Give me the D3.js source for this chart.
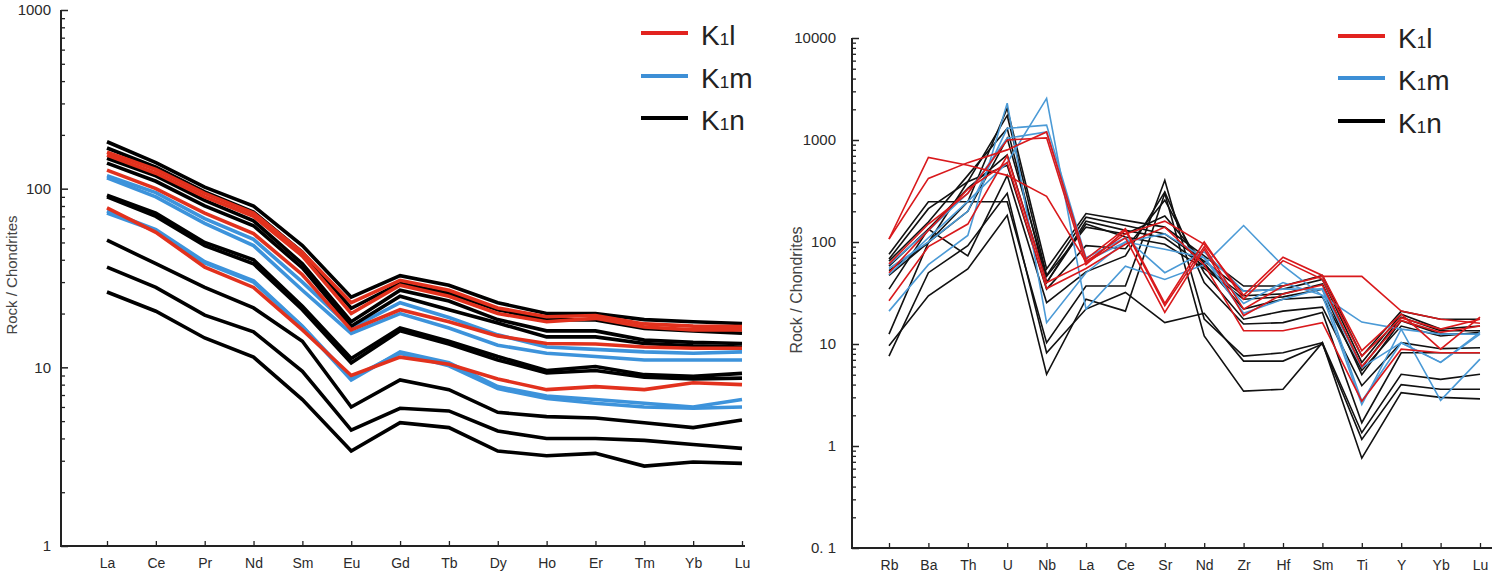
<!DOCTYPE html>
<html>
<head>
<meta charset="utf-8">
<script src="https://cdn.jsdelivr.net/npm/d3@7.9.0/dist/d3.min.js"></script>
<style>
  html, body { margin: 0; padding: 0; background: #fff; }
  svg { display: block; font-family: "Liberation Sans", Arial, sans-serif; }
  .tick text { fill: #2a2a2a; }
</style>
</head>
<body>
<svg id="chart" width="1510" height="579"></svg>
<script>
// --- DATA ---
const reeElements = ['La', 'Ce', 'Pr', 'Nd', 'Sm', 'Eu', 'Gd', 'Tb', 'Dy', 'Ho', 'Er', 'Tm', 'Yb', 'Lu'];
const traceElements = ['Rb', 'Ba', 'Th', 'U', 'Nb', 'La', 'Ce', 'Sr', 'Nd', 'Zr', 'Hf', 'Sm', 'Ti', 'Y', 'Yb', 'Lu'];

const groups = ['K1l', 'K1m', 'K1n'];

// chondrite-normalised REE
const reeK1l = [
  [160, 128, 94, 73, 44, 23, 30.7, 27, 21.5, 19.2, 19.5, 17.5, 17, 16.9],
  [154, 122, 90, 70, 42, 20, 28.8, 25, 20, 18, 18.8, 16.8, 16.2, 16.2],
  [127, 100, 73, 56, 33, 16.2, 21, 18, 15, 13.6, 13.5, 13, 12.8, 12.8],
  [78, 57, 36.4, 28, 16.2, 9.0, 11.4, 10.4, 8.6, 7.5, 7.8, 7.5, 8.2, 8.0]
];
const reeK1m = [
  [118, 95, 68, 52, 30, 16.6, 23, 19, 15.2, 13, 12.6, 12.2, 12, 12.2],
  [115, 90, 64, 48, 27, 15.5, 20, 16.6, 13.3, 12, 11.5, 11, 11, 11.0],
  [73, 58, 38.4, 30, 16.9, 8.5, 12.2, 10.6, 7.8, 6.9, 6.6, 6.3, 6.0, 6.6],
  [75, 59, 39, 30.5, 17, 8.7, 12.0, 10.2, 7.6, 6.7, 6.3, 6.0, 5.9, 6.0]
];
const reeK1n = [
  [183, 140, 102, 80, 48, 24.7, 32.6, 28.8, 23, 20, 20, 18.5, 18, 17.6],
  [169, 132, 96, 74, 44, 21.4, 29.5, 26, 21, 18.5, 18.4, 16.5, 16, 15.5],
  [148, 118, 86, 66, 38, 18, 27, 23.5, 18.5, 16, 16, 14.2, 13.8, 13.6],
  [139, 110, 80, 62, 36, 17, 25, 21, 17.7, 14.8, 14.8, 13.6, 13.2, 13.0],
  [92, 73, 50, 40, 22, 11.2, 16.6, 14, 11.5, 9.6, 10.1, 9.1, 8.9, 9.25],
  [90, 70, 48, 38, 21, 10.6, 16, 13.5, 11, 9.3, 9.6, 8.8, 8.6, 8.7],
  [51.5, 38, 28, 21.5, 14, 6.0, 8.5, 7.5, 5.6, 5.3, 5.2, 4.9, 4.6, 5.07],
  [36.4, 28, 19.6, 15.8, 9.5, 4.45, 5.9, 5.7, 4.4, 4.0, 4.0, 3.9, 3.7, 3.52],
  [26.4, 20.6, 14.6, 11.4, 6.6, 3.4, 4.9, 4.6, 3.4, 3.2, 3.3, 2.8, 2.95, 2.9]
];

// normalised trace elements
const traceK1l = [
  [107, 675, 565, 450, 280, 64, 120, 160, 95, 30, 71, 47, 8.6, 19.6, 8.9, 18.3],
  [107, 420, 600, 800, 1200, 68, 135, 25, 100, 27.5, 65.7, 43, 7.6, 18, 14, 17.5],
  [61, 150, 300, 1000, 1050, 60, 130, 23.7, 90, 22, 37, 46, 46, 21, 17.5, 16],
  [26.5, 90, 150, 700, 40, 62, 110, 20.4, 85, 19, 31, 38, 6.0, 17, 13, 15],
  [50, 130, 330, 600, 35, 55, 95, 140, 60, 13.5, 13.5, 16.2, 2.75, 8.9, 8.2, 8.2]
];
const traceK1m = [
  [21, 60, 116, 2300, 16.2, 50, 100, 120, 70, 25, 40, 30, 2.55, 14, 2.8, 7.1],
  [48, 110, 250, 600, 2560, 22, 58, 43, 60, 145, 58.5, 29.7, 16.4, 14, 12.5, 12.5],
  [55, 100, 200, 1300, 1400, 70, 110, 50, 80, 33, 34.5, 34.5, 2.75, 10.3, 6.6, 12.5],
  [60, 130, 300, 1040, 1200, 65, 100, 85, 70, 20, 27.5, 35, 5.9, 10.3, 6.6, 13]
];
const traceK1n = [
  [76, 248, 248, 2050, 54.5, 190, 163, 140, 73, 37, 37, 47, 7.6, 21, 17.5, 17.5],
  [68, 212, 390, 1740, 47, 175, 145, 120, 65, 33, 34.5, 43, 6.6, 19.6, 14, 15],
  [65, 157, 450, 1300, 40, 160, 130, 110, 58, 29.7, 31, 38.7, 5.9, 18.3, 13.5, 13.5],
  [58, 134, 335, 715, 40, 150, 112, 95, 55, 27.5, 29, 34.5, 5.0, 16.9, 12.5, 12.5],
  [47, 99, 200, 1040, 46, 140, 120, 180, 62, 22, 27.5, 29, 5.5, 15, 12, 13],
  [52.5, 99, 390, 565, 34.5, 92, 86, 257, 50, 17.5, 21, 23, 3.9, 10.3, 9, 9.2],
  [34.5, 134, 73, 450, 25.5, 51, 73, 310, 40, 15.7, 16.2, 20.4, 1.69, 8.2, 8.2, 8.2],
  [12.5, 99, 248, 248, 10.3, 37, 37, 403, 17.6, 7.6, 8.2, 10.3, 1.35, 5.05, 4.5, 5.05],
  [9.6, 29.7, 54.5, 183, 5.05, 27.5, 21, 300, 12, 3.45, 3.6, 10.3, 0.76, 3.33, 3.0, 2.9],
  [7.6, 50, 92, 300, 8.2, 22, 32, 16.2, 20, 6.8, 6.8, 10, 1.16, 4.0, 3.6, 3.6]
];

const svg = d3.select('#chart');

// draws one spider panel
function drawPanel(cfg) {
  const g = svg.append('g');
  const x = d3.scalePoint().domain(cfg.elements).range(cfg.xRange);
  const y = d3.scaleLog().domain(cfg.yDomain).range(cfg.yRange);

  // minor ticks (log 2..9 within each decade)
  const minor = [];
  for (let p = Math.log10(cfg.yDomain[0]); p < Math.log10(cfg.yDomain[1]); p++) {
    for (let m = 2; m <= 9; m++) minor.push(m * Math.pow(10, p));
  }
  g.append('g')
    .attr('transform', `translate(${cfg.axisX},0)`)
    .call(d3.axisLeft(y).tickValues(minor).tickSize(-4).tickFormat(''))
    .call(a => a.select('.domain').remove())
    .selectAll('line').attr('stroke', '#222').attr('stroke-width', 1.3);

  // major ticks + labels
  g.append('g')
    .attr('transform', `translate(${cfg.axisX},0)`)
    .call(d3.axisLeft(y).tickValues(cfg.majorTicks).tickSize(-7).tickPadding(cfg.labelPad)
      .tickFormat((d, i) => cfg.majorLabels[i]))
    .call(a => a.select('.domain').remove())
    .call(a => a.selectAll('line').attr('stroke', '#222').attr('stroke-width', 1.5))
    .call(a => a.selectAll('text').attr('font-size', 15));

  // bottom ticks
  g.append('g')
    .attr('transform', `translate(0,${cfg.yRange[0]})`)
    .call(d3.axisBottom(x).tickSize(-5).tickPadding(12))
    .call(a => a.select('.domain').remove())
    .call(a => a.selectAll('line').attr('stroke', '#222').attr('stroke-width', 1.3))
    .call(a => a.selectAll('text').attr('font-size', 14));

  // axis lines
  g.append('path')
    .attr('d', `M${cfg.axisX},${cfg.yRange[1]}V${cfg.yRange[0]}H${cfg.axisEnd}`)
    .attr('fill', 'none').attr('stroke', '#222').attr('stroke-width', 2);

  // y title
  g.append('text')
    .attr('transform', `translate(${cfg.titleX},${cfg.titleY}) rotate(-90)`)
    .attr('text-anchor', 'middle')
    .attr('font-size', cfg.titleSize)
    .attr('fill', '#444')
    .text('Rock / Chondrites');

  // lines
  const line = d3.line()
    .x((d, i) => x(cfg.elements[i]))
    .y(d => y(d));
  cfg.order.forEach(grp => {
    g.append('g').selectAll('path')
      .data(cfg.series[grp])
      .join('path')
      .attr('d', line)
      .attr('fill', 'none')
      .attr('stroke', cfg.colors[grp])
      .attr('stroke-width', cfg.lineWidth)
      .attr('stroke-linejoin', 'miter');
  });

  // legend
  const lg = g.append('g');
  groups.forEach((grp, i) => {
    const ly = cfg.legendY[i];
    lg.append('line')
      .attr('x1', cfg.legendX).attr('x2', cfg.legendX + 47)
      .attr('y1', ly).attr('y2', ly)
      .attr('stroke', cfg.legendColors[grp]).attr('stroke-width', 4);
    const t = lg.append('text')
      .attr('x', cfg.legendX + 60).attr('y', ly + 12)
      .attr('font-size', 28).attr('fill', '#222');
    t.append('tspan').text('K');
    t.append('tspan').attr('font-size', 17).text('1');
    t.append('tspan').text(grp.slice(2));
  });
}

drawPanel({
  elements: reeElements,
  xRange: [107, 742],
  yDomain: [1, 1000],
  yRange: [546, 10],
  majorTicks: [1, 10, 100, 1000],
  majorLabels: ['1', '10', '100', '1000'],
  labelPad: 10,
  axisX: 61,
  axisEnd: 745,
  titleX: 17,
  titleY: 275,
  titleSize: 15,
  series: { K1l: reeK1l, K1m: reeK1m, K1n: reeK1n },
  order: ['K1m', 'K1n', 'K1l'],
  colors: { K1l: '#e2311d', K1m: '#3d93db', K1n: '#000' },
  legendColors: { K1l: '#e2231f', K1m: '#3d8fd6', K1n: '#000' },
  lineWidth: 3.6,
  legendX: 641,
  legendY: [33, 76, 118]
});

drawPanel({
  elements: traceElements,
  xRange: [889, 1480],
  yDomain: [0.1, 10000],
  yRange: [548, 38],
  majorTicks: [0.1, 1, 10, 100, 1000, 10000],
  majorLabels: ['0. 1', '1', '10', '100', '1000', '10000'],
  labelPad: 16,
  axisX: 852,
  axisEnd: 1492,
  titleX: 802,
  titleY: 290,
  titleSize: 16,
  series: { K1l: traceK1l, K1m: traceK1m, K1n: traceK1n },
  order: ['K1n', 'K1m', 'K1l'],
  colors: { K1l: '#d9191c', K1m: '#4b9ad6', K1n: '#111' },
  legendColors: { K1l: '#e2231f', K1m: '#3d8fd6', K1n: '#000' },
  lineWidth: 1.6,
  legendX: 1338,
  legendY: [36, 78, 121]
});
</script>
</body>
</html>
